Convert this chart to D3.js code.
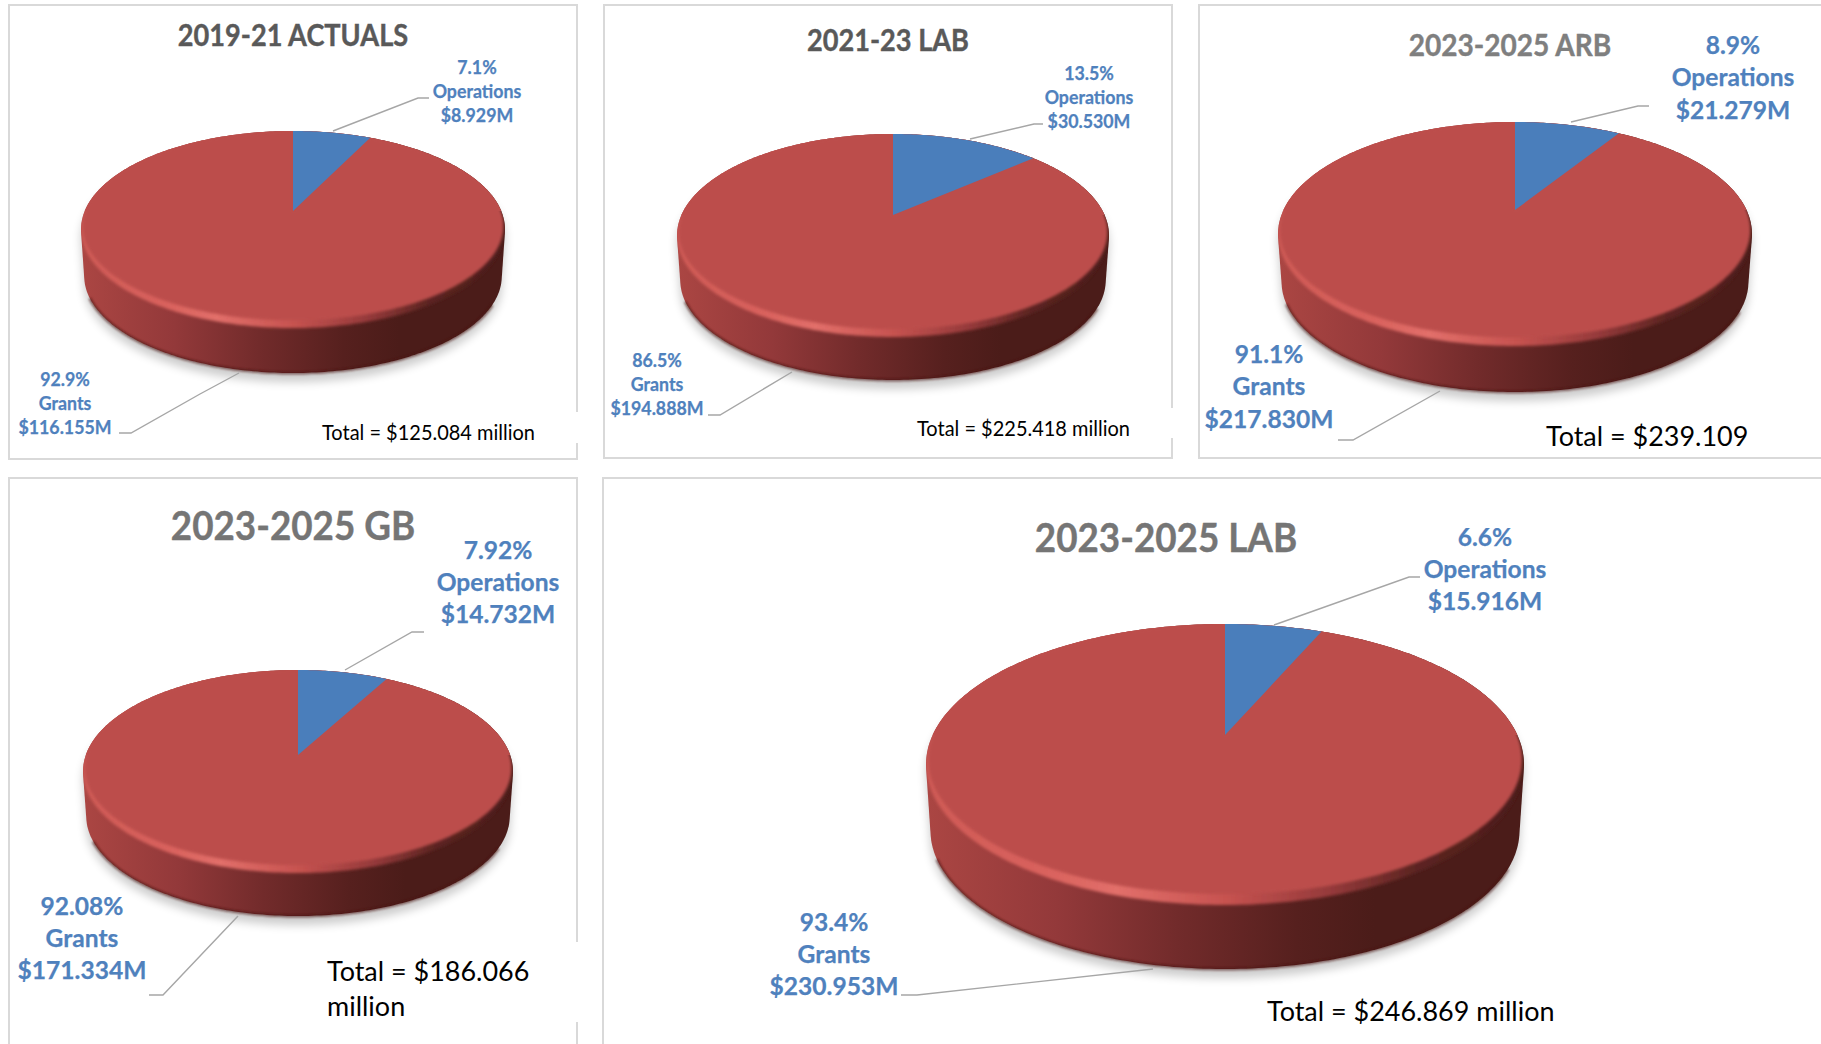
<!DOCTYPE html>
<html>
<head>
<meta charset="utf-8">
<script src="https://cdn.jsdelivr.net/npm/d3@7"></script>
<style>
html, body { margin: 0; padding: 0; background: #fff; overflow: hidden; }
text { font-family: Lato, "Open Sans", sans-serif; }
</style>
</head>
<body>
<div id="chart"></div>
<script>
// values, in $ millions
const panelTitles = ["2019-21 ACTUALS", "2021-23 LAB", "2023-2025 ARB", "2023-2025 GB", "2023-2025 LAB"];
const categories = ["Operations", "Grants"];
const operationsValues = [8.929, 30.530, 21.279, 14.732, 15.916];
const grantsValues = [116.155, 194.888, 217.830, 171.334, 230.953];
const operationsPct = ["7.1%", "13.5%", "8.9%", "7.92%", "6.6%"];
const grantsPct = ["92.9%", "86.5%", "91.1%", "92.08%", "93.4%"];
const totalLines = [
  ["Total = $125.084 million"],
  ["Total = $225.418 million"],
  ["Total = $239.109"],
  ["Total = $186.066", "million"],
  ["Total = $246.869 million"]
];

// page layout, one entry per panel
const layout = [
  {frame: [9, 5, 568, 454], pie: {cx: 293, apex: 211, top: 131, face: 328, rx: 212, side: 373},
   title: [293, 36, 29.5, "#595959"], label: 18.5, total: 20.6, totalAt: [322, 433],
   ops: [477, 68, 24], grants: [65, 380, 24],
   opsLine: [[333, 131], [418, 98], [429, 98]], grantsLine: [[239, 373], [200, 394], [131, 433], [119, 433]]},
  {frame: [604, 5, 568, 453], pie: {cx: 893, apex: 215, top: 134, face: 337, rx: 216, side: 380},
   title: [888, 41, 29.5, "#595959"], label: 18.5, total: 20.6, totalAt: [917, 429],
   ops: [1089, 74, 24], grants: [657, 361, 24],
   opsLine: [[970, 139], [1034, 124], [1043, 124]], grantsLine: [[792, 372], [720, 415], [708, 415]]},
  {frame: [1199, 5, 640, 453], pie: {cx: 1515, apex: 210, top: 122, face: 346, rx: 237, side: 392},
   title: [1510, 45, 30.5, "#7f7f7f"], label: 25.6, total: 27.8, totalAt: [1546, 436],
   ops: [1733, 45, 32.5], grants: [1269, 354, 32.5],
   opsLine: [[1571, 122], [1638, 106], [1649, 106]], grantsLine: [[1440, 391], [1353, 440], [1338, 440]]},
  {frame: [9, 478, 568, 590], pie: {cx: 298, apex: 755, top: 670, face: 873, rx: 215, side: 916},
   title: [293, 526, 40, "#757575"], label: 25.6, total: 27.8, totalAt: [327, 971], totalStep: 35,
   ops: [498, 550, 32], grants: [82, 906, 32],
   opsLine: [[345, 670], [412, 632], [424, 632]], grantsLine: [[238, 916], [163, 995], [149, 995]]},
  {frame: [603, 478, 1240, 590], pie: {cx: 1225, apex: 735, top: 624, face: 905, rx: 299, side: 969},
   title: [1166, 538, 40, "#757575"], label: 25.6, total: 27.8, totalAt: [1267, 1011],
   ops: [1485, 537, 32], grants: [834, 922, 32],
   opsLine: [[1274, 625], [1409, 577], [1420, 577]], grantsLine: [[1153, 969], [917, 995], [901, 995]]}
];
// places where the frames were covered by the pasted text boxes
const frameGaps = [[570, 412, 14, 31], [1165, 408, 14, 30], [570, 942, 14, 80]];

const faceColor = "#bc4e4b", opsColor = "#4a7ebb", labelColor = "#4f81bd";

const svg = d3.select("#chart").append("svg")
  .attr("width", 1821)
  .attr("height", 1044)
  .style("display", "block");

const defs = svg.append("defs");

function addGradient(id, stops) {
  const g = defs.append("linearGradient").attr("id", id);
  stops.forEach(s => g.append("stop").attr("offset", s[0]).attr("stop-color", s[1]));
}
addGradient("sideFill", [[0, "#ab4643"], [0.22, "#93393a"], [0.42, "#722b2b"], [0.62, "#56201e"], [0.75, "#4b1c19"], [1, "#4b1c19"]]);
addGradient("rimFill", [[0, "#cf5a56"], [0.2, "#d9625d"], [0.32, "#e26f6a"], [0.5, "#c75350"], [0.68, "#94393a"], [0.82, "#5c2421"], [1, "#4b1c19"]]);

function addBlur(id, dev) {
  defs.append("filter").attr("id", id)
    .attr("x", "-10%").attr("y", "-10%").attr("width", "120%").attr("height", "120%")
    .append("feGaussianBlur").attr("stdDeviation", dev);
}
addBlur("shadowBlur", 5);
addBlur("faceBlur", 1.5);
addBlur("rimBlur", 1.5);
addBlur("edgeBlur", 1);

const pieGen = d3.pie().sort(null).value(d => d);
const line = d3.line();

// circle in the plane of the pie -> picture, with a little perspective
function makeProjection(p, shiftY, scaleX, scaleY) {
  const up = p.apex - p.top, down = p.face - p.apex;
  const k = (down - up) / (down + up);
  const a = p.rx * Math.sqrt(1 - k * k) * scaleX;
  const b = up * (1 + k) * scaleY;
  return function(angle) {
    const u = Math.sin(angle), v = -Math.cos(angle);
    const w = 1 - k * v;
    return [p.cx + a * u / w, p.apex + shiftY + b * v / w];
  };
}

function arcPoints(project, start, end) {
  const n = Math.max(2, Math.ceil((end - start) * 60));
  return d3.range(n + 1).map(i => project(start + (end - start) * i / n));
}

function squeezed(sel, factor) {
  // Lato runs wider than the original face
  sel.each(function() {
    this.setAttribute("textLength", this.getComputedTextLength() * factor);
    this.setAttribute("lengthAdjust", "spacingAndGlyphs");
  });
}

layout.forEach(function(cfg, i) {
  const g = svg.append("g");
  const p = cfg.pie;

  g.append("rect")
    .attr("x", cfg.frame[0]).attr("y", cfg.frame[1])
    .attr("width", cfg.frame[2]).attr("height", cfg.frame[3])
    .attr("fill", "#fff").attr("stroke", "#d9d9d9").attr("stroke-width", 2);

  const lowScale = 0.985;
  const faceProject = makeProjection(p, 0, 1, 1);
  const depth = p.side - p.apex - lowScale * (p.face - p.apex);
  const lowProject = makeProjection(p, depth, lowScale, lowScale);

  const facePts = arcPoints(faceProject, 0, 2 * Math.PI);
  const lowPts = arcPoints(lowProject, 0, 2 * Math.PI);
  const hull = d3.polygonHull(facePts.concat(lowPts));

  g.append("path")
    .attr("d", line(hull) + "Z")
    .attr("transform", "translate(0,9)")
    .attr("fill", "#000").attr("opacity", 0.2)
    .attr("filter", "url(#shadowBlur)");

  g.append("path")
    .attr("d", line(hull) + "Z")
    .attr("fill", "url(#sideFill)");

  // darker foot along the front of the side
  g.append("path")
    .attr("d", line(arcPoints(lowProject, 2.05, 4.3)))
    .attr("fill", "none").attr("stroke", "#4a1512").attr("stroke-width", 3)
    .attr("opacity", 0.6).attr("filter", "url(#edgeBlur)");

  const hullClip = "hullClip" + i, faceClip = "faceClip" + i;
  defs.append("clipPath").attr("id", hullClip)
    .append("path").attr("d", line(hull) + "Z");
  defs.append("clipPath").attr("id", faceClip)
    .append("path").attr("d", line(facePts) + "Z");

  // bevel: lit rim showing from under a slightly flattened top face
  g.append("g").attr("clip-path", "url(#" + hullClip + ")")
    .append("path")
    .attr("d", line(facePts) + "Z")
    .attr("fill", "url(#rimFill)")
    .attr("filter", "url(#rimBlur)");
  g.append("path")
    .attr("d", line(arcPoints(faceProject, -Math.PI / 2, Math.PI / 2)) + "Z")
    .attr("fill", faceColor);

  const up = p.apex - p.top;
  const insetY = 1 - p.rx * 0.036 / (p.face - p.top);
  const innerProject = makeProjection(p, up * (insetY - 1), 0.993, insetY);

  const slices = pieGen([operationsValues[i], grantsValues[i]]);

  g.append("g").attr("clip-path", "url(#" + faceClip + ")")
    .append("path")
    .attr("fill", faceColor)
    .attr("filter", "url(#faceBlur)")
    .attr("d", line([[p.cx, p.apex]].concat(arcPoints(innerProject, slices[1].startAngle - 0.2, slices[1].endAngle))) + "Z");

  g.append("path")
    .attr("fill", opsColor)
    .attr("d", line([[p.cx, p.apex]].concat(arcPoints(faceProject, slices[0].startAngle, slices[0].endAngle))) + "Z");

  // leader lines
  [cfg.opsLine, cfg.grantsLine].forEach(function(pts) {
    g.append("path")
      .attr("d", line(pts))
      .attr("fill", "none").attr("stroke", "#a6a6a6").attr("stroke-width", 1.4);
  });

  // title
  g.append("text")
    .attr("x", cfg.title[0]).attr("y", cfg.title[1])
    .attr("dy", "0.35em")
    .attr("text-anchor", "middle")
    .attr("font-size", cfg.title[2]).attr("font-weight", 700)
    .attr("fill", cfg.title[3])
    .attr("stroke", cfg.title[3]).attr("stroke-width", 0.4)
    .text(panelTitles[i])
    .call(squeezed, 0.92);

  // data labels
  const labelSets = [
    {at: cfg.ops, rows: [operationsPct[i], categories[0], "$" + d3.format(".3f")(operationsValues[i]) + "M"]},
    {at: cfg.grants, rows: [grantsPct[i], categories[1], "$" + d3.format(".3f")(grantsValues[i]) + "M"]}
  ];
  labelSets.forEach(function(set) {
    g.append("g").selectAll("text")
      .data(set.rows)
      .join("text")
      .attr("x", set.at[0])
      .attr("y", (d, j) => set.at[1] + j * set.at[2])
      .attr("dy", "0.35em")
      .attr("text-anchor", "middle")
      .attr("font-size", cfg.label).attr("font-weight", 700)
      .attr("fill", labelColor)
      .attr("stroke", labelColor).attr("stroke-width", 0.25)
      .text(d => d)
      .call(squeezed, 0.96);
  });

  // total
  g.append("g").selectAll("text")
    .data(totalLines[i])
    .join("text")
    .attr("x", cfg.totalAt[0])
    .attr("y", (d, j) => cfg.totalAt[1] + j * (cfg.totalStep || 0))
    .attr("dy", "0.35em")
    .attr("font-size", cfg.total)
    .attr("fill", "#000")
    .text(d => d)
    .call(squeezed, 0.97);
});

svg.append("g").selectAll("rect")
  .data(frameGaps)
  .join("rect")
  .attr("x", d => d[0]).attr("y", d => d[1])
  .attr("width", d => d[2]).attr("height", d => d[3])
  .attr("fill", "#fff");
</script>
</body>
</html>
